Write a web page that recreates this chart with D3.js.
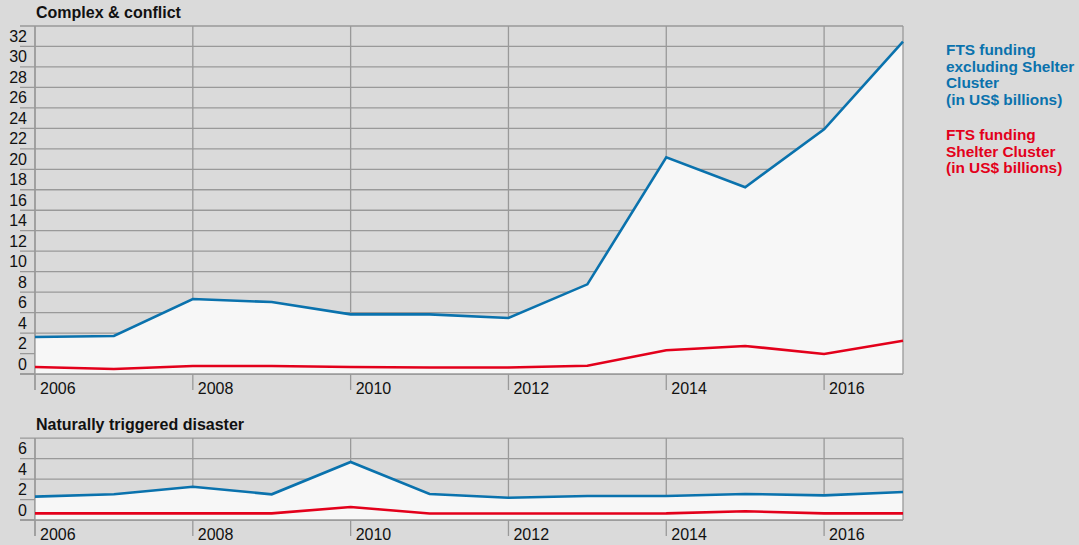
<!DOCTYPE html>
<html>
<head>
<meta charset="utf-8">
<script src="https://cdn.jsdelivr.net/npm/d3@7"></script>
<style>
  html, body { margin: 0; padding: 0; background: #dadada; }
  svg { display: block; font-family: "Liberation Sans", Arial, Helvetica, sans-serif; }
</style>
</head>
<body>
<svg id="chart" width="1079" height="545"></svg>
<script>
// ---- data ----
const years = [2006, 2007, 2008, 2009, 2010, 2011, 2012, 2013, 2014, 2015, 2016, 2017];
const conflictExclShelter = [3.62, 3.71, 7.33, 7.03, 5.83, 5.83, 5.47, 8.76, 21.17, 18.24, 23.91, 32.47];
const conflictShelter     = [0.68, 0.49, 0.78, 0.78, 0.68, 0.64, 0.64, 0.81, 2.32, 2.74, 1.95, 3.25];
const disasterExclShelter = [2.28, 2.51, 3.25, 2.51, 5.67, 2.54, 2.18, 2.34, 2.34, 2.54, 2.41, 2.74];
const disasterShelter     = [0.65, 0.65, 0.65, 0.65, 1.27, 0.63, 0.63, 0.63, 0.65, 0.85, 0.65, 0.65];
const xTickLabels = [2006, 2008, 2010, 2012, 2014, 2016];
const topYTicks = [0, 2, 4, 6, 8, 10, 12, 14, 16, 18, 20, 22, 24, 26, 28, 30, 32];
const bottomYTicks = [0, 2, 4, 6];
const panelTitles = ["Complex & conflict", "Naturally triggered disaster"];
const legendBlue = ["FTS funding", "excluding Shelter", "Cluster", "(in US$ billions)"];
const legendRed = ["FTS funding", "Shelter Cluster", "(in US$ billions)"];

const BLUE = "#0a72ad", RED = "#e3001b", GRID = "#999999", FILL = "#f7f7f7";

const svg = d3.select("#chart");
const x = d3.scaleLinear().domain([2006, 2017]).range([35, 903]);

function panel(opts) {
  const { top, bottom, yMax, yTicks, other, shelter, title } = opts;
  const y = d3.scaleLinear().domain([0, yMax]).range([bottom, top]);
  const g = svg.append("g");
  const gridVals = d3.range(0, yMax + 1, 2);

  // horizontal grid lines (extend left as ticks)
  g.selectAll("line.h").data(gridVals).join("line")
    .attr("x1", 20).attr("x2", x(2017))
    .attr("y1", d => y(d)).attr("y2", d => y(d))
    .attr("stroke", GRID).attr("stroke-width", 1.3);

  // vertical grid lines (extend below as ticks)
  g.selectAll("line.v").data(xTickLabels).join("line")
    .attr("x1", d => x(d)).attr("x2", d => x(d))
    .attr("y1", top).attr("y2", bottom + 16)
    .attr("stroke", GRID).attr("stroke-width", 1.3);

  const pts = years.map((yr, i) => ({ yr, o: other[i], s: shelter[i] }));

  // area under blue line
  g.append("path").datum(pts)
    .attr("d", d3.area().x(d => x(d.yr)).y0(y(0)).y1(d => y(d.o)))
    .attr("fill", FILL);

  // borders over fill
  g.append("line").attr("x1", x(2017)).attr("x2", x(2017)).attr("y1", top).attr("y2", bottom)
    .attr("stroke", GRID).attr("stroke-width", 1.3);
  g.append("line").attr("x1", x(2006)).attr("x2", x(2006)).attr("y1", top).attr("y2", bottom + 16)
    .attr("stroke", GRID).attr("stroke-width", 1.3);
  g.append("line").attr("x1", 20).attr("x2", x(2017)).attr("y1", y(0)).attr("y2", y(0))
    .attr("stroke", GRID).attr("stroke-width", 1.3);

  // lines
  g.append("path").datum(pts)
    .attr("d", d3.line().x(d => x(d.yr)).y(d => y(d.o)))
    .attr("fill", "none").attr("stroke", BLUE).attr("stroke-width", 2.6).attr("stroke-linejoin", "miter");
  g.append("path").datum(pts)
    .attr("d", d3.line().x(d => x(d.yr)).y(d => y(d.s)))
    .attr("fill", "none").attr("stroke", RED).attr("stroke-width", 2.6);

  // y labels (sit between grid lines)
  g.selectAll("text.yl").data(yTicks).join("text")
    .attr("x", 27).attr("y", d => y(d + 1)).attr("dy", "0.36em")
    .attr("text-anchor", "end").attr("font-size", 16).attr("fill", "#111")
    .text(d => d);

  // x labels
  g.selectAll("text.xl").data(xTickLabels).join("text")
    .attr("x", d => x(d) + 5).attr("y", bottom + 20)
    .attr("font-size", 16).attr("fill", "#111")
    .text(d => d);

  // title
  g.append("text").attr("x", 36).attr("y", top - 8)
    .attr("font-size", 16).attr("font-weight", "bold").attr("fill", "#111")
    .text(title);
}

panel({ top: 26, bottom: 374, yMax: 34, yTicks: topYTicks,
        other: conflictExclShelter, shelter: conflictShelter, title: panelTitles[0] });
panel({ top: 438.1, bottom: 520, yMax: 8, yTicks: bottomYTicks,
        other: disasterExclShelter, shelter: disasterShelter, title: panelTitles[1] });

// legend
const lg = svg.append("g").attr("font-size", 15.4).attr("font-weight", "bold");
lg.selectAll("text.b").data(legendBlue).join("text")
  .attr("x", 946).attr("y", (d, i) => 55 + i * 16.7).attr("fill", BLUE).text(d => d);
lg.selectAll("text.r").data(legendRed).join("text")
  .attr("x", 946).attr("y", (d, i) => 140 + i * 16.7).attr("fill", RED).text(d => d);
</script>
</body>
</html>
